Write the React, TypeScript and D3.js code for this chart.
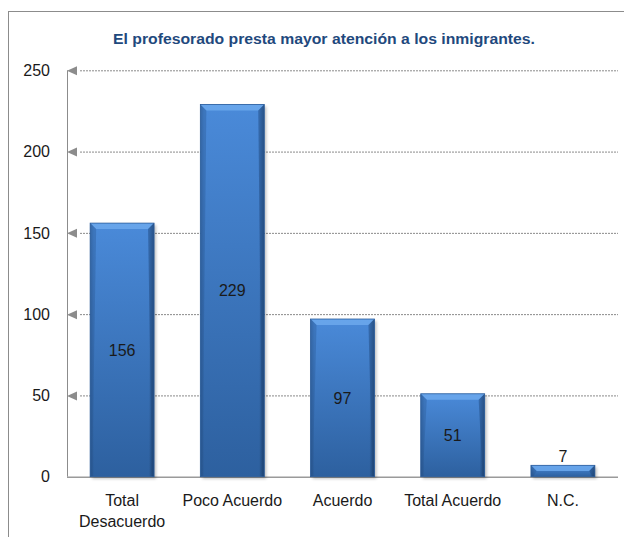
import React from "react";
import * as d3 from "d3";

const categories = ["Total Desacuerdo", "Poco Acuerdo", "Acuerdo", "Total Acuerdo", "N.C."];
const categoryLines = [["Total", "Desacuerdo"], ["Poco Acuerdo"], ["Acuerdo"], ["Total Acuerdo"], ["N.C."]];
const values = [156, 229, 97, 51, 7];
const yTicks = [0, 50, 100, 150, 200, 250];
const title = "El profesorado presta mayor atención a los inmigrantes.";

const W = 624;
const H = 537;
const left = 67;
const right = 618;
const top = 70.3;
const bottom = 476.7;

export default function App() {
  const x = d3.scaleBand<string>().domain(categories).range([left, right]).paddingInner(0.42).paddingOuter(0.21);
  const y = d3.scaleLinear().domain([0, 250]).range([bottom, top]);
  const font = "'Liberation Sans', Arial, sans-serif";
  const bw = x.bandwidth();

  return (
    <svg width={W} height={H} style={{ position: "fixed", left: 0, top: 0, background: "#fff" }} fontFamily={font}>
      <defs>
        <linearGradient id="barV" x1="0" y1="0" x2="0" y2="1">
          <stop offset="0" stopColor="#4a8ad9" />
          <stop offset="1" stopColor="#2d609f" />
        </linearGradient>
        <linearGradient id="barH" x1="0" y1="0" x2="1" y2="0">
          <stop offset="0" stopColor="#000" stopOpacity="0.18" />
          <stop offset="0.06" stopColor="#000" stopOpacity="0" />
          <stop offset="0.92" stopColor="#000" stopOpacity="0" />
          <stop offset="1" stopColor="#000" stopOpacity="0.35" />
        </linearGradient>
        <filter id="shadow" x="-20%" y="-20%" width="140%" height="140%">
          <feGaussianBlur stdDeviation="1.5" />
        </filter>
      </defs>
      <rect x={8.5} y={11.5} width={700} height={600} fill="#fff" stroke="#8c8c8c" strokeWidth={1} />
      <text x={324} y={44} textAnchor="middle" fontSize={14} fontWeight="bold" fill="#1f497d" textLength={422} lengthAdjust="spacingAndGlyphs">
        {title}
      </text>
      {/* gridlines */}
      {yTicks.map((t) => (
        <g key={t}>
          {t > 0 && (
            <>
              <line x1={80} x2={right} y1={y(t) + 0.5} y2={y(t) + 0.5} stroke="#8a8a8a" strokeWidth={1} strokeDasharray="2,1" />
              <path d={`M${left},${y(t) + 0.5} L${left + 10},${y(t) - 4} L${left + 10},${y(t) + 5} Z`} fill="#8c8c8c" />
            </>
          )}
          <text x={50} y={y(t)} dy="0.36em" textAnchor="end" fontSize={16} fill="#1a1a1a">
            {t}
          </text>
        </g>
      ))}
      {/* axes */}
      <line x1={left + 0.5} x2={left + 0.5} y1={top} y2={bottom} stroke="#8c8c8c" />
      <line x1={left} x2={right} y1={bottom + 0.5} y2={bottom + 0.5} stroke="#9a9a9a" strokeWidth={1.5} />
      {/* bars */}
      {categories.map((c, i) => {
        const bx = x(c)!;
        const by = y(values[i]);
        const bh = bottom - by;
        const bev = Math.min(6, bh / 2);
        return (
          <g key={c}>
            <rect x={bx + 2} y={by + 2} width={bw} height={bh} fill="#000" opacity={0.25} filter="url(#shadow)" />
            <rect x={bx} y={by} width={bw} height={bh} fill="url(#barV)" />
            <rect x={bx} y={by} width={bw} height={bh} fill="url(#barH)" />
            <path d={`M${bx},${by} L${bx + bw},${by} L${bx + bw - bev},${by + bev} L${bx + bev},${by + bev} Z`} fill="#6aa7ec" opacity={0.9} />
            <path d={`M${bx + bw},${by} L${bx + bw},${by + bh} L${bx + bw - 2},${by + bh} L${bx + bw - bev},${by + bev} Z`} fill="#1f4a80" opacity={0.5} />
            <path d={`M${bx},${by} L${bx},${by + bh} L${bx + 2},${by + bh} L${bx + bev},${by + bev} Z`} fill="#2b5a96" opacity={0.4} />
            <rect x={bx} y={by} width={bw} height={bh} fill="none" stroke="#2b5d9c" strokeWidth={0.8} />
            <text
              x={bx + bw / 2}
              y={values[i] < 20 ? by - 3 : by + bh / 2}
              dy={values[i] < 20 ? 0 : "0.36em"}
              textAnchor="middle"
              fontSize={16}
              fill="#1a1a1a"
            >
              {values[i]}
            </text>
          </g>
        );
      })}
      {/* x labels */}
      {categories.map((c, i) => (
        <text key={c} x={x(c)! + bw / 2} y={506} textAnchor="middle" fontSize={16} fill="#1a1a1a">
          {categoryLines[i].map((ln, j) => (
            <tspan key={j} x={x(c)! + bw / 2} dy={j === 0 ? 0 : 21}>
              {ln}
            </tspan>
          ))}
        </text>
      ))}
    </svg>
  );
}
